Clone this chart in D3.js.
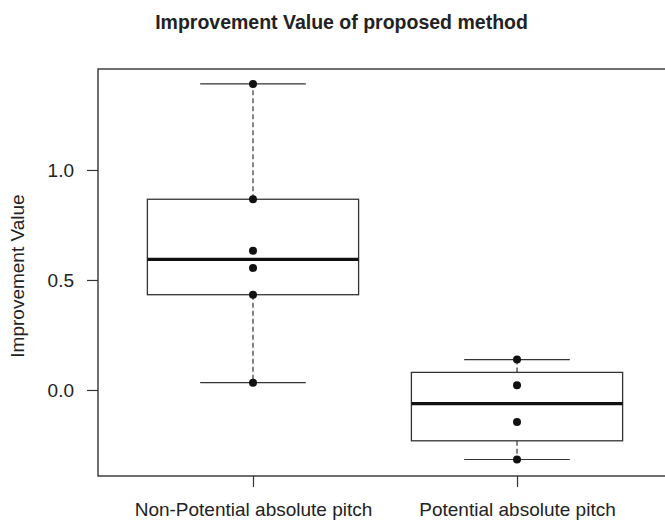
<!DOCTYPE html>
<html><head><meta charset="utf-8">
<script src="https://cdn.jsdelivr.net/npm/d3@7"></script>
<style>body{margin:0;background:#fff}svg{display:block}text{font-family:"Liberation Sans",Arial,sans-serif;fill:#222}</style>
</head><body><svg id="c" width="665" height="520"></svg>
<script>
const categories = ["Non-Potential absolute pitch", "Potential absolute pitch"];
const nonPotentialValues = [1.391, 0.867, 0.633, 0.555, 0.433, 0.033];
const potentialValues = [0.138, 0.022, -0.146, -0.316];
const yTicks = [0.0, 0.5, 1.0];
const title = "Improvement Value of proposed method";
const yLabel = "Improvement Value";

const series = [nonPotentialValues, potentialValues];

function fivenum(arr) {
  const s = arr.slice().sort((a, b) => a - b);
  const n = s.length;
  const n4 = Math.floor((n + 3) / 2) / 2;
  const idx = [1, n4, (n + 1) / 2, n + 1 - n4, n];
  return idx.map(i => 0.5 * (s[Math.floor(i) - 1] + s[Math.ceil(i) - 1]));
}

const svg = d3.select("#c");
const L = 98, R = 672, T = 69, B = 476;
const x = d3.scaleLinear().domain([0.413, 2.587]).range([L, R]);
const y = d3.scaleLinear().domain([-0.391, 1.459]).range([B, T]);
const ink = "#333";
const FONT = "Liberation Sans, Arial, sans-serif";

// frame
svg.append("rect").attr("x", L).attr("y", T).attr("width", R - L).attr("height", B - T)
  .attr("fill", "none").attr("stroke", ink).attr("stroke-width", 1.4);

// y axis
const yAxis = svg.append("g").attr("transform", `translate(${L},0)`)
  .call(d3.axisLeft(y).tickValues(yTicks).tickFormat(d3.format(".1f")).tickSize(11).tickPadding(13));
yAxis.select(".domain").remove();
yAxis.selectAll("line").attr("stroke", ink).attr("stroke-width", 1.2);
yAxis.selectAll("text").attr("font-size", 19).attr("fill", "#222").attr("font-family", FONT);

// x axis
const xAxis = svg.append("g").attr("transform", `translate(0,${B})`)
  .call(d3.axisBottom(x).tickValues([1, 2]).tickFormat((d, i) => categories[i]).tickSize(11).tickPadding(16));
xAxis.select(".domain").remove();
xAxis.selectAll("line").attr("stroke", ink).attr("stroke-width", 1.2);
xAxis.selectAll("text").attr("font-size", 19).attr("fill", "#222").attr("font-family", FONT);

// boxes
const boxW = 0.8, capW = 0.4;
series.forEach((vals, i) => {
  const cx = i + 1;
  const [mn, q1, md, q3, mx] = fivenum(vals);
  const g = svg.append("g");
  g.append("line").attr("x1", x(cx)).attr("x2", x(cx)).attr("y1", y(q3)).attr("y2", y(mx))
    .attr("stroke", ink).attr("stroke-width", 1.2).attr("stroke-dasharray", "5,3");
  g.append("line").attr("x1", x(cx)).attr("x2", x(cx)).attr("y1", y(q1)).attr("y2", y(mn))
    .attr("stroke", ink).attr("stroke-width", 1.2).attr("stroke-dasharray", "5,3");
  [mn, mx].forEach(v => g.append("line").attr("x1", x(cx - capW / 2)).attr("x2", x(cx + capW / 2))
    .attr("y1", y(v)).attr("y2", y(v)).attr("stroke", ink).attr("stroke-width", 1.2));
  g.append("rect").attr("x", x(cx - boxW / 2)).attr("y", y(q3)).attr("width", x(cx + boxW / 2) - x(cx - boxW / 2))
    .attr("height", y(q1) - y(q3)).attr("fill", "#fff").attr("stroke", ink).attr("stroke-width", 1.3);
  g.append("line").attr("x1", x(cx - boxW / 2)).attr("x2", x(cx + boxW / 2)).attr("y1", y(md)).attr("y2", y(md))
    .attr("stroke", "#111").attr("stroke-width", 3.2);
  g.selectAll("circle").data(vals).join("circle").attr("cx", x(cx)).attr("cy", d => y(d)).attr("r", 4).attr("fill", "#111");
});

// title
svg.append("text").attr("x", 341.5).attr("y", 29).attr("text-anchor", "middle")
  .attr("font-size", 19.5).attr("font-weight", "bold").attr("fill", "#1a1a1a").text(title);
// y label
svg.append("text").attr("transform", "translate(24,276) rotate(-90)").attr("text-anchor", "middle")
  .attr("font-size", 19).text(yLabel);
</script></body></html>
